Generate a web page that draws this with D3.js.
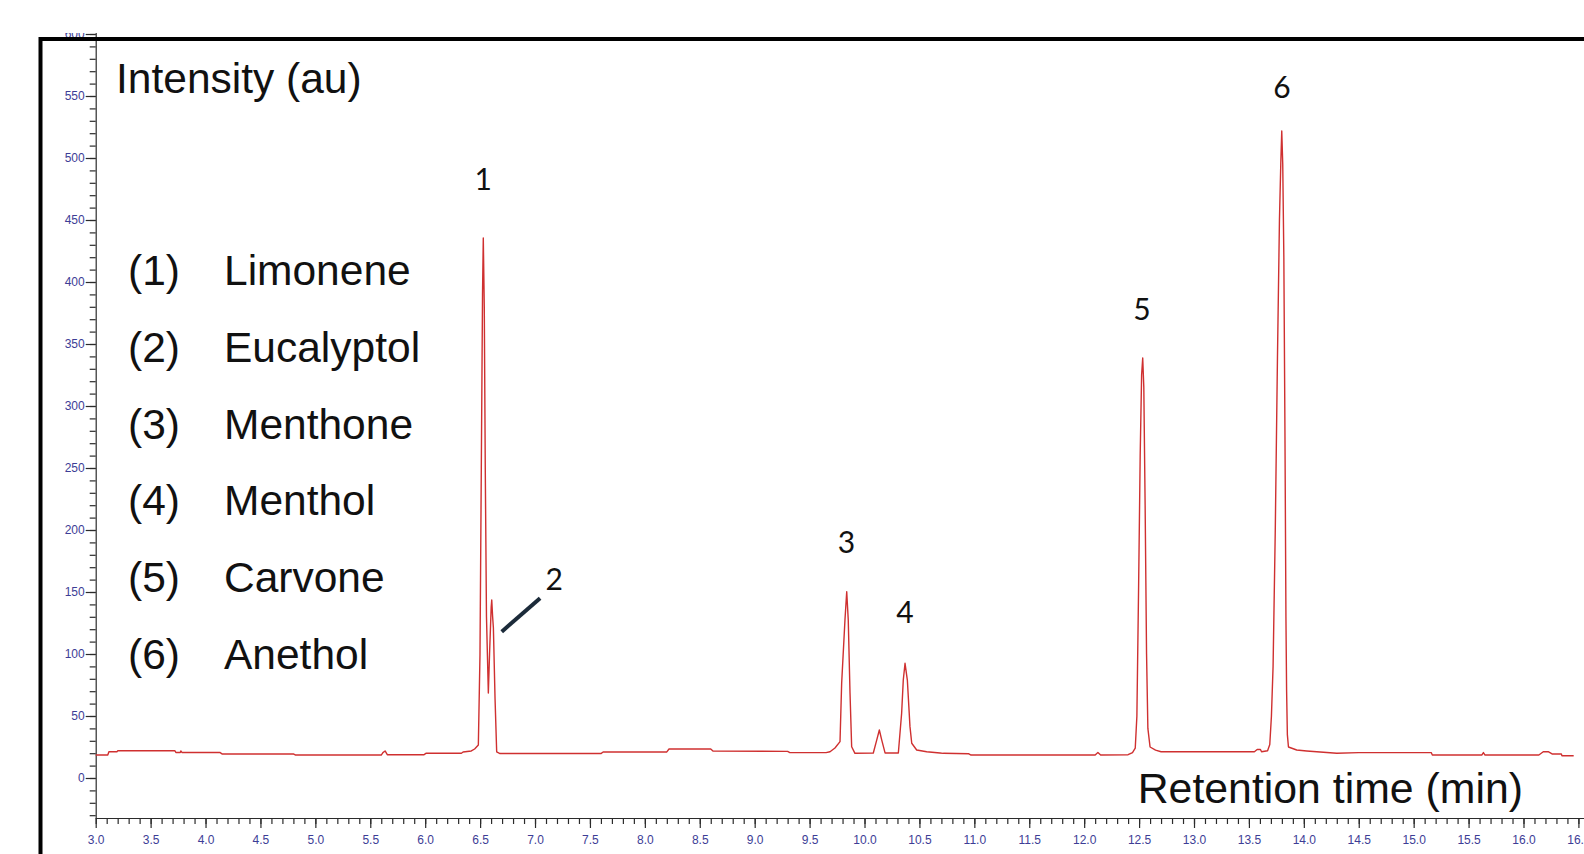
<!DOCTYPE html>
<html>
<head>
<meta charset="utf-8">
<script src="https://cdn.jsdelivr.net/npm/d3@7"></script>
<style>
  body { margin: 0; background: #fff; }
</style>
</head>
<body>
<div id="chart"></div>
<script>
// trace, [retention time (min), intensity (au)]
const baselineStart = [[3.00,18.5],[3.11,18.5],[3.12,21.2],[3.195,21.2],[3.20,22],[3.72,22],[3.73,20.6],[3.77,20.6],[3.775,21.8],[3.785,20.6],[4.13,20.6],[4.15,19.4],[4.80,19.4],[4.82,18.5],[5.60,18.5],[5.615,20.5],[5.635,21.8],[5.655,18.8],[5.99,18.8],[6.01,20],[6.33,20],[6.345,21],[6.42,21.8],[6.45,23.4],[6.484,26.6]]
const peaks1and2 = [[6.499,100],[6.511,250],[6.522,390],[6.529,435.5],[6.538,380],[6.547,250],[6.558,130],[6.575,68.5],[6.586,100],[6.601,138],[6.606,143.5],[6.614,130],[6.621,121],[6.636,64],[6.651,21],[6.681,19.7]]
const midBaseline = [[7.60,19.7],[7.62,21],[8.20,21],[8.22,23.4],[8.60,23.4],[8.62,21.8],[9.30,21.5],[9.32,20.5],[9.65,20.5],[9.686,21.2],[9.731,24.2],[9.777,29.3]]
const peaks3and4 = [[9.792,76.6],[9.822,127.4],[9.838,150.2],[9.852,127.4],[9.868,68.5],[9.883,25.2],[9.913,19.9],[10.08,20.2],[10.111,30.6],[10.135,38.7],[10.157,30.6],[10.187,20.2],[10.308,20.2],[10.338,52.2],[10.353,79],[10.369,92.5],[10.39,79],[10.414,41.4],[10.43,28],[10.475,22.6],[10.566,21.2],[10.687,20.2],[10.717,19.9]]
const beforePeak5 = [[10.95,19.5],[10.97,18.5],[12.10,18.5],[12.125,20.5],[12.15,18.5],[12.40,18.8],[12.44,20.5],[12.465,24]]
const peak5 = [[12.48,50],[12.495,150],[12.51,260],[12.523,325],[12.533,338.7],[12.543,315],[12.555,220],[12.568,100],[12.58,40],[12.60,25],[12.65,22.5],[12.70,21.2],[13.55,21.2]]
const peak6 = [[13.575,23],[13.605,23],[13.615,21.2],[13.67,22],[13.69,27],[13.705,50],[13.72,90],[13.74,200],[13.76,340],[13.778,450],[13.79,495],[13.799,521.8],[13.808,495],[13.818,420],[13.828,280],[13.837,130],[13.843,71],[13.85,35],[13.86,25],[13.935,22.6],[14.026,21.8],[14.30,19.9]]
const tail = [[14.50,20.5],[15.16,20.5],[15.17,18.5],[15.62,18.5],[15.635,20.5],[15.65,18.5],[16.14,18.5],[16.18,21.2],[16.225,21.2],[16.26,19.4],[16.345,19.4],[16.35,18],[16.457,18]]

const peakNumbers = ['1', '2', '3', '4', '5', '6']
const labelTime = [6.529, 7.174, 9.836, 10.369, 12.527, 13.80]
const labelIntensity = [484, 161, 191, 134.5, 379, 558]
const pointerTime = [6.697, 7.046]
const pointerIntensity = [118, 145]

const compounds = ['Limonene', 'Eucalyptol', 'Menthone', 'Menthol', 'Carvone', 'Anethol']

const yTicks = [0, 50, 100, 150, 200, 250, 300, 350, 400, 450, 500, 550, 600]
const xTicks = [3.0, 3.5, 4.0, 4.5, 5.0, 5.5, 6.0, 6.5, 7.0, 7.5, 8.0, 8.5, 9.0, 9.5, 10.0, 10.5, 11.0, 11.5, 12.0, 12.5, 13.0, 13.5, 14.0, 14.5, 15.0, 15.5, 16.0, 16.5]

const width = 1584, height = 854
const trace = [].concat(baselineStart, peaks1and2, midBaseline, peaks3and4, beforePeak5, peak5, peak6, tail)

const svg = d3.select('#chart').append('svg')
  .attr('width', width)
  .attr('height', height)

const xScale = d3.scaleLinear().domain([3, 16.55]).range([95.7, 1583.9])
const yScale = d3.scaleLinear().domain([-32.26, 610]).range([818, 21.6])

svg.append('defs').append('clipPath')
  .attr('id', 'plotclip')
  .append('rect')
  .attr('x', 0).attr('y', 33)
  .attr('width', width).attr('height', height)

const labelFont = '"Liberation Sans", Arial, sans-serif'

function styleAxis(g) {
  g.selectAll('path, line').attr('stroke', '#2b2b2b').attr('stroke-width', 1.2)
  g.selectAll('text')
    .attr('fill', '#3d3d96')
    .style('font-family', labelFont)
    .style('font-size', '12px')
}

// y axis
const yAxisG = svg.append('g').attr('clip-path', 'url(#plotclip)')
yAxisG.append('g')
  .attr('transform', `translate(${xScale(3)}, 0)`)
  .call(d3.axisLeft(yScale).tickValues(d3.range(-30, 601, 10)).tickSize(6).tickFormat(''))
  .call(g => g.select('.domain').remove())
  .call(styleAxis)
yAxisG.append('g')
  .attr('transform', `translate(${xScale(3)}, 0)`)
  .call(d3.axisLeft(yScale).tickValues(yTicks).tickSize(10).tickPadding(1).tickSizeOuter(0))
  .call(styleAxis)

// x axis
svg.append('g')
  .attr('transform', `translate(0, ${yScale(-32.26)})`)
  .call(d3.axisBottom(xScale).tickValues(d3.range(30, 166).map(d => d / 10)).tickSize(6).tickFormat(''))
  .call(g => g.select('.domain').remove())
  .call(styleAxis)
svg.append('g')
  .attr('transform', `translate(0, ${yScale(-32.26)})`)
  .call(d3.axisBottom(xScale).tickValues(xTicks).tickSize(10).tickPadding(7.5).tickSizeOuter(0).tickFormat(d3.format('.1f')))
  .call(styleAxis)

// chromatogram trace
const line = d3.line()
  .x(d => xScale(d[0]))
  .y(d => yScale(d[1]))
svg.append('path')
  .datum(trace)
  .attr('fill', 'none')
  .attr('stroke', '#cf3030')
  .attr('stroke-width', 1.4)
  .attr('stroke-linejoin', 'round')
  .attr('d', line)

// pointer for peak 2
svg.append('line')
  .attr('x1', xScale(pointerTime[0])).attr('y1', yScale(pointerIntensity[0]))
  .attr('x2', xScale(pointerTime[1])).attr('y2', yScale(pointerIntensity[1]))
  .attr('stroke', '#1c2b3a')
  .attr('stroke-width', 4)

svg.selectAll('.peaklabel')
  .data(peakNumbers)
  .enter().append('text')
  .attr('class', 'peaklabel')
  .attr('x', (d, i) => xScale(labelTime[i]))
  .attr('y', (d, i) => yScale(labelIntensity[i]))
  .attr('text-anchor', 'middle')
  .attr('dominant-baseline', 'central')
  .style('font-family', 'Lato, "Open Sans", sans-serif')
  .style('font-size', '30px')
  .attr('fill', '#111')
  .text(d => d)

// titles
svg.append('text')
  .attr('x', 116).attr('y', 93)
  .style('font-family', labelFont)
  .style('font-size', '42.5px')
  .attr('fill', '#111')
  .text('Intensity (au)')

svg.append('text')
  .attr('x', 1523).attr('y', 803)
  .attr('text-anchor', 'end')
  .style('font-family', labelFont)
  .style('font-size', '42.8px')
  .attr('fill', '#111')
  .text('Retention time (min)')

// compound list
const legend = svg.selectAll('.legend')
  .data(compounds)
  .enter().append('g')
  .attr('class', 'legend')
  .attr('transform', (d, i) => `translate(0, ${285 + i * 76.8})`)
legend.append('text')
  .attr('x', 128)
  .style('font-family', labelFont)
  .style('font-size', '42.5px')
  .attr('fill', '#111')
  .text((d, i) => `(${peakNumbers[i]})`)
legend.append('text')
  .attr('x', 224)
  .style('font-family', labelFont)
  .style('font-size', '42.5px')
  .attr('fill', '#111')
  .text(d => d)

// frame
svg.append('rect')
  .attr('x', 40.5).attr('y', 39)
  .attr('width', 1700).attr('height', 900)
  .attr('fill', 'none')
  .attr('stroke', '#000')
  .attr('stroke-width', 4)
</script>
</body>
</html>
